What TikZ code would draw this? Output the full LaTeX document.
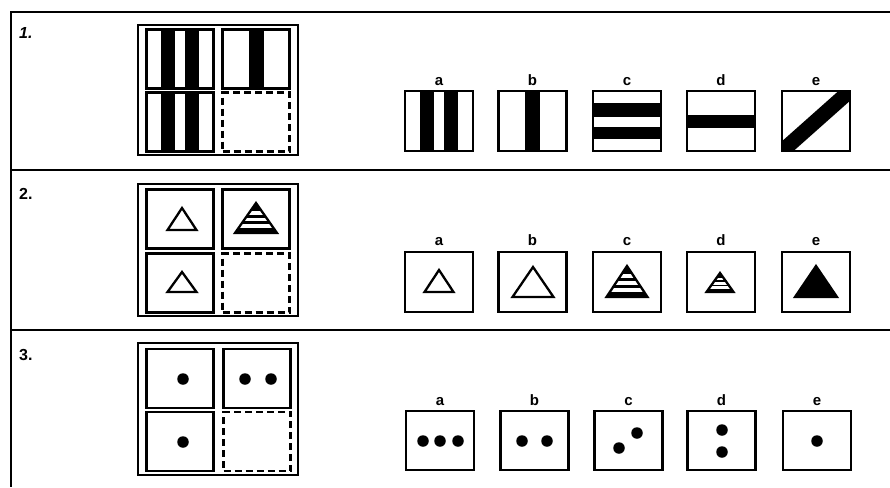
\documentclass[tikz,border=0pt]{standalone}
\usepackage{fontspec}
\setmainfont{Liberation Sans}
\newcommand\mytri[4]{%
  \draw[trist] ({#1-#3/2},#2) -- (#1,{#2-#4}) -- ({#1+#3/2},#2) -- cycle;}
\newcommand\myfulltri[4]{%
  \filldraw[trist,fill=black] ({#1-#3/2},#2) -- (#1,{#2-#4}) -- ({#1+#3/2},#2) -- cycle;}
\newcommand\mystritri[4]{%
  \begin{scope}
    \clip ({#1-#3/2},#2) -- (#1,{#2-#4}) -- ({#1+#3/2},#2) -- cycle;
    \fill[black] ({#1-#3/2},#2) -- (#1,{#2-#4}) -- ({#1+#3/2},#2) -- cycle;
    \foreach \p/\q in {0.27/0.39,0.49/0.61,0.71/0.83}
      \fill[white] ({#1-#3},{#2-#4+\p*#4}) rectangle ({#1+#3},{#2-#4+\q*#4});
  \end{scope}
  \draw[trist] ({#1-#3/2},#2) -- (#1,{#2-#4}) -- ({#1+#3/2},#2) -- cycle;}
\begin{document}
\begin{tikzpicture}[x=1pt,y=-1pt,
  frame/.style={line width=2.4pt},
  cellbox/.style={draw, line width=2.2pt, inner sep=0pt, minimum width=67pt, minimum height=59pt},
  optbox/.style={draw, line width=2.2pt, inner sep=0pt, minimum width=68pt, minimum height=60pt},
  outerbox/.style={draw, line width=2.2pt, inner sep=0pt, minimum width=160pt, minimum height=132pt},
  dashbox/.style={cellbox, dash pattern=on 7pt off 4pt},
  lab/.style={font=\bfseries\fontsize{15}{15}\selectfont, anchor=base, inner sep=0pt},
  num/.style={font=\bfseries\fontsize{16}{16}\selectfont, anchor=west, inner sep=0pt},
  trist/.style={line width=2.3pt, line join=miter},
  dot/.style={circle, fill=black, inner sep=0pt, minimum size=11.5pt}]

\useasboundingbox (0,0) rectangle (890,487);
\fill[white] (0,0) rectangle (890,487);

% frame
\coordinate (ftr) at (890,12);
\coordinate (ftl) at (11,12);
\coordinate (fbl) at (11,487);
\coordinate (s1l) at (11,170);
\coordinate (s1r) at (890,170);
\coordinate (s2l) at (11,330);
\coordinate (s2r) at (890,330);
\draw[frame] (ftr) -- (ftl) -- (fbl);
\draw[frame] (s1l) -- (s1r);
\draw[frame] (s2l) -- (s2r);

% row numbers
\node[num] (n1) at (19,33) {\itshape 1.};
\node[num] (n2) at (19,194) {2.};
\node[num] (n3) at (19,355) {3.};

% ================= ROW 1 =================
\node[outerbox, minimum height=130pt] (m1) at (218,90) {};
\fill (161,29.5) rectangle (175,88.5);
\fill (185,29.5) rectangle (199,88.5);
\fill (248.5,29.5) rectangle (263.5,88.5);
\fill (161,92.5) rectangle (175,151.5);
\fill (185,92.5) rectangle (199,151.5);
\node[cellbox] (m1a) at (180,59) {};
\node[cellbox] (m1b) at (256,59) {};
\node[cellbox] (m1c) at (180,122) {};
\node[dashbox] (m1d) at (256,122) {};

\fill (420,91) rectangle (434,151);
\fill (444,91) rectangle (458,151);
\fill (525,91) rectangle (540,151);
\fill (593,103) rectangle (661,117);
\fill (593,127) rectangle (661,139);
\fill (687,115) rectangle (755,128);
\begin{scope}
  \clip (782,91) rectangle (850,151);
  \draw[line width=15pt] (780,153) -- (852,89);
\end{scope}
\node[optbox] (o1a) at (439,121) {};
\node[optbox] (o1b) at (532.5,121) {};
\node[optbox] (o1c) at (627,121) {};
\node[optbox] (o1d) at (721,121) {};
\node[optbox] (o1e) at (816,121) {};
\node[lab] (l1a) at (439,85) {a};
\node[lab] (l1b) at (532.5,85) {b};
\node[lab] (l1c) at (627,85) {c};
\node[lab] (l1d) at (721,85) {d};
\node[lab] (l1e) at (816,85) {e};

% ================= ROW 2 =================
\node[outerbox] (m2) at (218,250) {};
\node[cellbox] (m2a) at (180,219) {};
\node[cellbox] (m2b) at (256,219) {};
\node[cellbox] (m2c) at (180,283) {};
\node[dashbox] (m2d) at (256,283) {};
\mytri{182}{230}{29}{22}
\mystritri{256}{233}{42}{30}
\mytri{182}{292}{29}{20}

\node[optbox] (o2a) at (439,282) {};
\node[optbox] (o2b) at (532.5,282) {};
\node[optbox] (o2c) at (627,282) {};
\node[optbox] (o2d) at (721,282) {};
\node[optbox] (o2e) at (816,282) {};
\mytri{439}{292}{29}{22}
\mytri{533}{297}{41}{30}
\mystritri{627}{297}{41}{31}
\mystritri{720}{292}{27}{19}
\myfulltri{816}{297}{42}{31}
\node[lab] (l2a) at (439,245) {a};
\node[lab] (l2b) at (532.5,245) {b};
\node[lab] (l2c) at (627,245) {c};
\node[lab] (l2d) at (721,245) {d};
\node[lab] (l2e) at (816,245) {e};

% ================= ROW 3 =================
\node[outerbox] (m3) at (218,409) {};
\node[cellbox] (m3a) at (180,378.5) {};
\node[cellbox] (m3b) at (257,378.5) {};
\node[cellbox] (m3c) at (180,441.5) {};
\node[dashbox] (m3d) at (257,441.5) {};
\node[dot] (m3a1) at (183,379) {};
\node[dot] (m3b1) at (245,379) {};
\node[dot] (m3b2) at (271,379) {};
\node[dot] (m3c1) at (183,442) {};

\node[optbox, minimum height=59pt] (o3a) at (440,440.5) {};
\node[optbox, minimum height=59pt] (o3b) at (534.5,440.5) {};
\node[optbox, minimum height=59pt] (o3c) at (628.5,440.5) {};
\node[optbox, minimum height=59pt] (o3d) at (721.5,440.5) {};
\node[optbox, minimum height=59pt] (o3e) at (817,440.5) {};
\node[dot] (o3a1) at (423,441) {};
\node[dot] (o3a2) at (440,441) {};
\node[dot] (o3a3) at (458,441) {};
\node[dot] (o3b1) at (522,441) {};
\node[dot] (o3b2) at (547,441) {};
\node[dot] (o3c1) at (619,448) {};
\node[dot] (o3c2) at (637,433) {};
\node[dot] (o3d1) at (722,430) {};
\node[dot] (o3d2) at (722,452) {};
\node[dot] (o3e1) at (817,441) {};
\node[lab] (l3a) at (440,405) {a};
\node[lab] (l3b) at (534.5,405) {b};
\node[lab] (l3c) at (628.5,405) {c};
\node[lab] (l3d) at (721.5,405) {d};
\node[lab] (l3e) at (817,405) {e};
\end{tikzpicture}
\end{document}
